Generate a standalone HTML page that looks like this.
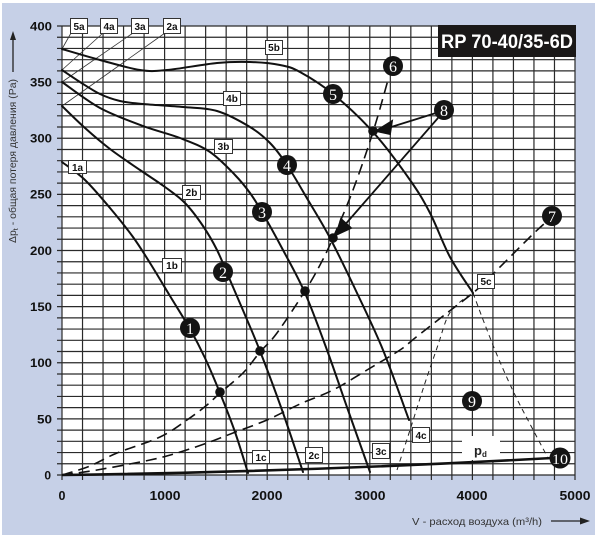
<!DOCTYPE html>
<html><head><meta charset="utf-8"><style>
html,body{margin:0;padding:0;background:#fff;}
svg{display:block;}
</style></head><body>
<svg id="chart" width="600" height="535" viewBox="0 0 600 535" xmlns="http://www.w3.org/2000/svg" font-family="Liberation Sans, Arial, sans-serif">
<rect x="0" y="0" width="600" height="535" fill="#fff"/>
<rect x="2" y="3" width="593" height="532" fill="#c6d0e7"/>
<rect x="62" y="26" width="513" height="449" fill="#fff"/>
<!-- grid -->
<path fill="none" stroke="#2a2a2a" stroke-width="1.2" d="M57 26h518m-518 11.225h518m-518 11.225h518m-518 11.225h518m-518 11.225h518m-518 11.225h518m-518 11.225h518m-518 11.225h518m-518 11.225h518m-518 11.225h518m-518 11.225h518m-518 11.225h518m-518 11.225h518m-518 11.225h518m-518 11.225h518m-518 11.225h518m-518 11.225h518m-518 11.225h518m-518 11.225h518m-518 11.225h518m-518 11.225h518m-518 11.225h518m-518 11.225h518m-518 11.225h518m-518 11.225h518m-518 11.225h518m-518 11.225h518m-518 11.225h518m-518 11.225h518m-518 11.225h518m-518 11.225h518m-518 11.225h518m-518 11.225h518m-518 11.225h518m-518 11.225h518m-518 11.225h518m-518 11.225h518m-518 11.225h518m-518 11.225h518m-518 11.225h518m-518 11.225h518"/>
<path fill="none" stroke="#2a2a2a" stroke-width="1.2" d="M62 26v454m20.52 -454v454m20.52 -454v454m20.52 -454v454m20.52 -454v454m20.52 -454v454m20.52 -454v454m20.52 -454v454m20.52 -454v454m20.52 -454v454m20.52 -454v454m20.52 -454v454m20.52 -454v454m20.52 -454v454m20.52 -454v454m20.52 -454v454m20.52 -454v454m20.52 -454v454m20.52 -454v454m20.52 -454v454m20.52 -454v454m20.52 -454v454m20.52 -454v454m20.52 -454v454m20.52 -454v454m20.52 -454v454"/>

<!-- title -->
<rect x="438" y="25" width="138" height="32" fill="#1a1818"/>
<text x="441" y="48" fill="#fff" font-size="19" font-weight="bold" textLength="132" lengthAdjust="spacingAndGlyphs">RP 70-40/35-6D</text>

<!-- p_d white box -->
<rect x="462" y="436" width="38" height="24" fill="#fff"/>
<text x="474" y="455" font-size="13" font-weight="bold" fill="#222">p<tspan font-size="8" dy="2">d</tspan></text>

<!-- leader lines -->
<g stroke="#333" stroke-width="0.8" fill="none">
<path d="M62 49L71 33M62 70L103 33M62 82L133 33M62 106L165 33"/>
</g>

<!-- thin dashed -->
<g fill="none" stroke="#222" stroke-width="1" stroke-dasharray="5 4">
<polyline class="sm" points="397,470 410,430 425,383 438,345 448,316 460,302 473,293"/>
<polyline class="sm" points="473,293 487,330 500,362 515,395 530,424 548,458"/>
</g>

<!-- long dashed system curves -->
<g fill="none" stroke="#111" stroke-width="1.6" stroke-dasharray="11 6">
<polyline class="sm" points="62,475 90,466 117,453 160,437 187,420 207,405 220,393 243,373 260,352 277,333 305,291 320,265 333,238 353,190 373,132 388,80"/>
<polyline class="sm" points="62,475 97,470 150,460 177,453 207,443 233,433 267,420 300,404 333,390 367,370 400,350 415,338 447,313 473,293 490,277 530,237 545,223"/>
</g>

<!-- p_d line -->
<path d="M62 475 Q300 472 552 458" fill="none" stroke="#111" stroke-width="2.6"/>

<!-- fan curves -->
<g fill="none" stroke="#111" stroke-width="2" stroke-linejoin="round" stroke-linecap="round">
<polyline class="sm" points="62,162 85,180 110,208 133,237 150,263 170,296 190,329 205,358 220,393 235,432 248,473"/>
<polyline class="sm" points="62,106 85,128 110,149 140,170 165,187 185,203 203,226 217,250 230,280 245,315 260,351 282,410 303,472"/>
<polyline class="sm" points="62,82 100,108 143,126 180,138 210,152 235,175 250,193 262,212 283,250 305,293 327,350 348,410 370,472"/>
<polyline class="sm" points="62,70 80,82 100,94 120,101 143,104 183,107 217,111 250,127 270,143 287,165 308,200 330,238 357,293 383,350 409,420"/>
<polyline class="sm" points="62,49 100,60 140,70 167,70 217,63 250,62 280,65 300,72 333,94 373,132 410,180 430,213 450,257 473,293"/>
</g>

<!-- arrows from 8 -->
<g stroke="#111" stroke-width="1.8" fill="#111">
<line x1="436" y1="113" x2="388" y2="128"/>
<polygon points="376,131 392,121 390,134"/>
<line x1="438" y1="118" x2="343" y2="227"/>
<polygon points="336,235 341,219 351,228"/>
</g>

<!-- dots -->
<g fill="#111">
<circle cx="220" cy="392" r="4.8"/>
<circle cx="260" cy="351" r="4.8"/>
<circle cx="305" cy="291" r="4.8"/>
<circle cx="333" cy="238" r="4.8"/>
<circle cx="373" cy="131" r="4.8"/>
</g>

<!-- box labels -->
<g fill="#fff" stroke="#333" stroke-width="1">
<rect x="70.5" y="18.5" width="17" height="15"/>
<rect x="100.5" y="18.5" width="17" height="15"/>
<rect x="131.5" y="18.5" width="17" height="15"/>
<rect x="163.5" y="18.5" width="17" height="15"/>
<rect x="265.5" y="40.5" width="17" height="14"/>
<rect x="223.5" y="91.5" width="17" height="14"/>
<rect x="214.5" y="139.5" width="18" height="14"/>
<rect x="182.5" y="185.5" width="18" height="14"/>
<rect x="162.5" y="258.5" width="19" height="14"/>
<rect x="68.5" y="160.5" width="18" height="13"/>
<rect x="252.5" y="450.5" width="17" height="13"/>
<rect x="305.5" y="447.5" width="17" height="15"/>
<rect x="372.5" y="443.5" width="17" height="15"/>
<rect x="412.5" y="427.5" width="17" height="15"/>
<rect x="477.5" y="274.5" width="17" height="14"/>
</g>
<g font-size="10" font-weight="bold" fill="#111" text-anchor="middle">
<text x="79" y="30">5a</text>
<text x="109" y="30">4a</text>
<text x="140" y="30">3a</text>
<text x="172" y="30">2a</text>
<text x="274" y="51">5b</text>
<text x="232" y="102">4b</text>
<text x="223.5" y="150">3b</text>
<text x="191.5" y="196">2b</text>
<text x="172" y="269">1b</text>
<text x="77.5" y="171">1a</text>
<text x="261" y="461">1c</text>
<text x="314" y="459">2c</text>
<text x="381" y="455">3c</text>
<text x="421" y="439">4c</text>
<text x="486" y="285">5c</text>
</g>

<!-- numbered markers -->
<g fill="#141414">
<circle cx="190" cy="328" r="10"/>
<circle cx="223" cy="272" r="10"/>
<circle cx="262" cy="212" r="10"/>
<circle cx="287" cy="165" r="10"/>
<circle cx="333" cy="94" r="10"/>
<circle cx="393" cy="66" r="10"/>
<circle cx="552" cy="216" r="10"/>
<circle cx="444" cy="110" r="10"/>
<circle cx="472" cy="401" r="10"/>
<circle cx="560" cy="458" r="10.5"/>
</g>
<g fill="#fff" font-family="Liberation Serif, serif" font-size="16" text-anchor="middle">
<text x="190" y="334">1</text>
<text x="223" y="278">2</text>
<text x="262" y="218">3</text>
<text x="287" y="171">4</text>
<text x="333" y="100">5</text>
<text x="393" y="72">6</text>
<text x="552" y="222">7</text>
<text x="444" y="116">8</text>
<text x="472" y="407">9</text>
<text x="560" y="464" font-size="15" textLength="16" lengthAdjust="spacingAndGlyphs">10</text>
</g>

<!-- y tick labels -->
<g font-size="12" font-weight="bold" fill="#111" text-anchor="end">
<text x="52" y="30.5" textLength="22" lengthAdjust="spacingAndGlyphs">400</text>
<text x="52" y="86.5" textLength="22" lengthAdjust="spacingAndGlyphs">350</text>
<text x="52" y="142.5" textLength="22" lengthAdjust="spacingAndGlyphs">300</text>
<text x="52" y="198.5" textLength="22" lengthAdjust="spacingAndGlyphs">250</text>
<text x="52" y="255" textLength="22" lengthAdjust="spacingAndGlyphs">200</text>
<text x="52" y="311" textLength="22" lengthAdjust="spacingAndGlyphs">150</text>
<text x="52" y="367" textLength="22" lengthAdjust="spacingAndGlyphs">100</text>
<text x="52" y="423.5" textLength="15" lengthAdjust="spacingAndGlyphs">50</text>
<text x="51" y="479.5">0</text>
</g>
<!-- x tick labels -->
<g font-size="12.5" font-weight="bold" fill="#111" text-anchor="middle">
<text x="62" y="500">0</text>
<text x="165" y="500" textLength="31" lengthAdjust="spacingAndGlyphs">1000</text>
<text x="267" y="500" textLength="31" lengthAdjust="spacingAndGlyphs">2000</text>
<text x="370" y="500" textLength="31" lengthAdjust="spacingAndGlyphs">3000</text>
<text x="472" y="500" textLength="31" lengthAdjust="spacingAndGlyphs">4000</text>
<text x="575" y="500" textLength="31" lengthAdjust="spacingAndGlyphs">5000</text>
</g>

<!-- axis titles -->
<text transform="translate(16,243) rotate(-90)" font-size="10" fill="#333" textLength="164" lengthAdjust="spacingAndGlyphs">Δp<tspan font-size="7" dy="2">t</tspan><tspan dy="-2"> - общая потеря давления (Pa)</tspan></text>
<line x1="13" y1="72" x2="13" y2="38" stroke="#222" stroke-width="1.3"/>
<polygon points="13,31 10,40 16,40" fill="#222"/>

<text x="412" y="525" font-size="10.5" fill="#333" textLength="130" lengthAdjust="spacingAndGlyphs">V - расход воздуха (m³/h)</text>
<line x1="551" y1="521" x2="582" y2="521" stroke="#222" stroke-width="1.3"/>
<polygon points="590,521 580,517.5 580,524.5" fill="#222"/>
</svg>
<script>
(function(){
  var NS="http://www.w3.org/2000/svg";
  var pls=document.querySelectorAll("polyline.sm");
  for(var k=0;k<pls.length;k++){
    var pl=pls[k];
    var raw=pl.getAttribute("points").trim().split(/\s+/);
    var p=raw.map(function(s){var a=s.split(",");return [parseFloat(a[0]),parseFloat(a[1])];});
    var d="M"+p[0][0]+" "+p[0][1];
    for(var i=0;i<p.length-1;i++){
      var p0=p[i-1]||p[i],p1=p[i],p2=p[i+1],p3=p[i+2]||p[i+1];
      var c1x=p1[0]+(p2[0]-p0[0])/6,c1y=p1[1]+(p2[1]-p0[1])/6;
      var c2x=p2[0]-(p3[0]-p1[0])/6,c2y=p2[1]-(p3[1]-p1[1])/6;
      d+=" C"+c1x.toFixed(2)+" "+c1y.toFixed(2)+" "+c2x.toFixed(2)+" "+c2y.toFixed(2)+" "+p2[0]+" "+p2[1];
    }
    var path=document.createElementNS(NS,"path");
    path.setAttribute("d",d);
    pl.parentNode.replaceChild(path,pl);
  }
})();
</script>
</body></html>
